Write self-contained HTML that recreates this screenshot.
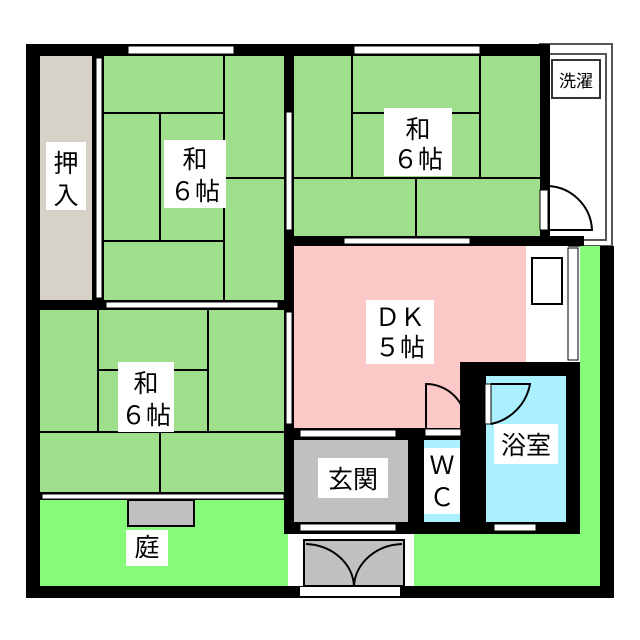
<!DOCTYPE html>
<html><head><meta charset="utf-8"><style>
html,body{margin:0;padding:0;background:#fff;width:640px;height:640px;overflow:hidden}
text{font-family:"Liberation Sans","Noto Sans CJK JP",sans-serif;font-size:25px;fill:#000}
</style></head><body>
<svg width="640" height="640" viewBox="0 0 640 640" xmlns="http://www.w3.org/2000/svg">
<!-- laundry area -->
<rect x="540" y="44" width="72" height="202" fill="#fff" stroke="#555" stroke-width="2"/>
<rect x="546" y="54" width="60" height="186" fill="#fff" stroke="#555" stroke-width="2"/>
<rect x="552" y="60" width="48" height="38" fill="#fff" stroke="#333" stroke-width="2"/>
<text x="576" y="87" text-anchor="middle" style="font-size:17px">洗濯</text>
<!-- garden greens -->
<rect x="40" y="498" width="250" height="88" fill="#86fb7a"/>
<rect x="414" y="530" width="190" height="56" fill="#86fb7a"/>
<rect x="580" y="246" width="22" height="300" fill="#86fb7a"/>
<!-- rooms -->
<rect x="40" y="56" width="54" height="244" fill="#d6d2c8"/>
<rect x="104" y="56" width="182" height="244" fill="#9fdf8c"/>
<rect x="292" y="56" width="250" height="182" fill="#9fdf8c"/>
<rect x="40" y="310" width="246" height="184" fill="#9fdf8c"/>
<rect x="292" y="246" width="236" height="184" fill="#fdc8c8"/>
<rect x="526" y="246" width="42" height="118" fill="#fff"/>
<rect x="532" y="258" width="30" height="46" fill="#fff" stroke="#000" stroke-width="2"/>
<!-- tatami lines -->
<g stroke="#000" stroke-width="2">
<line x1="104" y1="113" x2="224" y2="113"/><line x1="224" y1="56" x2="224" y2="300"/>
<line x1="160" y1="113" x2="160" y2="241"/><line x1="104" y1="241" x2="224" y2="241"/>
<line x1="224" y1="178" x2="286" y2="178"/>
<line x1="352" y1="56" x2="352" y2="178"/><line x1="480" y1="56" x2="480" y2="178"/>
<line x1="352" y1="113" x2="480" y2="113"/><line x1="292" y1="178" x2="540" y2="178"/>
<line x1="416" y1="178" x2="416" y2="238"/>
<line x1="98" y1="310" x2="98" y2="432"/><line x1="208" y1="310" x2="208" y2="432"/>
<line x1="98" y1="370" x2="208" y2="370"/><line x1="40" y1="432" x2="286" y2="432"/>
<line x1="160" y1="432" x2="160" y2="494"/>
</g>
<!-- main walls -->
<g fill="#000">
<rect x="26" y="44" width="524" height="12"/>
<rect x="26" y="44" width="14" height="554"/>
<rect x="26" y="586" width="588" height="12"/>
<rect x="600" y="246" width="14" height="352"/>
<rect x="284" y="44" width="10" height="490"/>
<rect x="540" y="44" width="10" height="202"/>
<rect x="284" y="236" width="300" height="10"/>
<rect x="26" y="300" width="268" height="10"/>
<rect x="92" y="56" width="12" height="244"/>
<rect x="26" y="492" width="268" height="8"/>
<rect x="284" y="428" width="288" height="12"/>
<rect x="284" y="522" width="296" height="12"/>
<rect x="408" y="428" width="16" height="106"/>
<rect x="460" y="362" width="26" height="172"/>
<rect x="472" y="362" width="108" height="14"/>
<rect x="566" y="362" width="14" height="172"/>
</g>
<!-- genkan, wc, bath -->
<rect x="294" y="440" width="114" height="82" fill="#c0c0c0"/>
<rect x="424" y="440" width="36" height="82" fill="#aaf0ff"/>
<rect x="486" y="376" width="80" height="146" fill="#aaf0ff"/>
<rect x="485" y="384" width="6" height="40" fill="#fff" stroke="#000" stroke-width="1"/>
<path d="M491 424 A50 50 0 0 0 530 384 L491 384" fill="none" stroke="#000" stroke-width="2"/>
<!-- wc door -->
<path d="M426 428 L426 384 A40 40 0 0 1 466 424" fill="none" stroke="#000" stroke-width="2"/>
<rect x="425" y="429" width="36" height="7" fill="#fff" stroke="#000" stroke-width="1"/>
<!-- laundry door -->
<rect x="540" y="190" width="8" height="40" fill="#fff" stroke="#000" stroke-width="1"/>
<path d="M548 186 A46 46 0 0 1 592 230 L548 230" fill="none" stroke="#000" stroke-width="2"/>
<!-- porch -->
<rect x="288" y="534" width="126" height="52" fill="#fff"/>
<rect x="304" y="540" width="100" height="46" fill="#c0c0c0" stroke="#000" stroke-width="2"/>
<path d="M306 544 A50 44 0 0 1 354 586 M402 544 A50 44 0 0 0 354 586" fill="none" stroke="#000" stroke-width="2"/>
<rect x="300" y="587" width="100" height="9" fill="#fff"/>
<!-- garden step -->
<rect x="128" y="500" width="66" height="26" fill="#c0c0c0" stroke="#000" stroke-width="2"/>
<!-- windows -->
<g fill="#fff" stroke="#000" stroke-width="1">
<rect x="128" y="46" width="106" height="8"/><rect x="354" y="46" width="126" height="8"/>
<rect x="96" y="58" width="6" height="240"/>
<rect x="286" y="112" width="6" height="118"/>
<rect x="106" y="302" width="172" height="6"/>
<rect x="42" y="494" width="242" height="5"/>
<rect x="286" y="312" width="6" height="112"/>
<rect x="344" y="238" width="126" height="6"/>
<rect x="568" y="248" width="10" height="112"/>
<rect x="300" y="430" width="96" height="7"/>
<rect x="300" y="524" width="96" height="7"/>
<rect x="494" y="524" width="42" height="7"/>
</g>
<!-- labels -->
<g fill="#fff">
<rect x="164" y="140" width="62" height="68"/><rect x="384" y="108" width="68" height="68"/>
<rect x="118" y="362" width="56" height="70"/><rect x="366" y="300" width="68" height="64"/>
<rect x="46" y="142" width="40" height="68"/><rect x="318" y="458" width="70" height="40"/>
<rect x="424" y="448" width="36" height="66"/><rect x="494" y="424" width="64" height="40"/>
<rect x="126" y="530" width="42" height="36"/>
</g>
<text x="195" y="168" text-anchor="middle">和</text><text x="195" y="200" text-anchor="middle">６帖</text>
<text x="418" y="138" text-anchor="middle">和</text><text x="418" y="168" text-anchor="middle">６帖</text>
<text x="146" y="392" text-anchor="middle">和</text><text x="146" y="424" text-anchor="middle">６帖</text>
<text x="400" y="326" text-anchor="middle">ＤＫ</text><text x="400" y="356" text-anchor="middle">５帖</text>
<text x="66" y="172" text-anchor="middle">押</text><text x="66" y="204" text-anchor="middle">入</text>
<text x="353" y="488" text-anchor="middle">玄関</text>
<text x="442" y="474" text-anchor="middle">Ｗ</text><text x="442" y="506" text-anchor="middle">Ｃ</text>
<text x="526" y="454" text-anchor="middle">浴室</text>
<text x="147" y="556" text-anchor="middle">庭</text>
</svg>
</body></html>
